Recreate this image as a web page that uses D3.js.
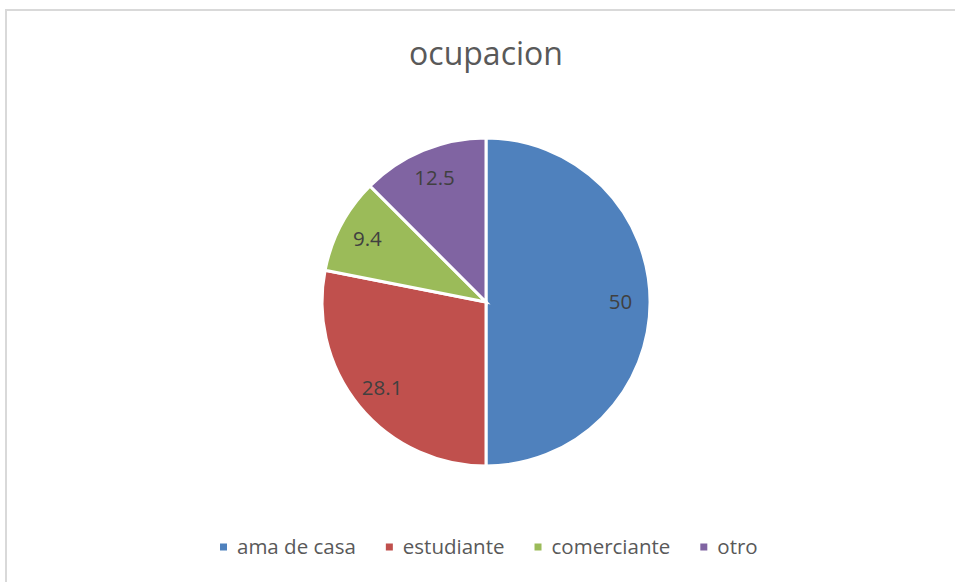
<!DOCTYPE html>
<html lang="es">
<head>
<meta charset="utf-8">
<title>ocupacion</title>
<script src="https://cdn.jsdelivr.net/npm/d3@7"></script>
<style>
body { margin:0; background:#fff; }
.title { font-family:"Open Sans", sans-serif; font-size:32px; fill:#595959; }
.slice { stroke:#fff; stroke-width:3px; }
.val { font-family:"Open Sans", sans-serif; font-size:20.5px; fill:#404040; }
.legend text { font-family:"Open Sans", sans-serif; font-size:20.5px; fill:#595959; }
</style>
</head>
<body>
<div id="chart"></div>
<script>
// datos
var categorias = ["ama de casa", "estudiante", "comerciante", "otro"];
var valores = [50, 28.1, 9.4, 12.5];
var colores = ["#4f81bd", "#c0504d", "#9bbb59", "#8064a2"];
var titulo = "ocupacion";

(function(){
	var W = 955, H = 582;
	var cx = 486, cy = 302, r = 164;

	var svg = d3.select("#chart").append("svg")
		.attr("width", W).attr("height", H);

	// marco del grafico (borde derecho/inferior fuera de la vista)
	svg.append("rect")
		.attr("x", 6).attr("y", 10)
		.attr("width", 980).attr("height", 600)
		.attr("fill", "none").attr("stroke", "#d9d9d9").attr("stroke-width", 2);

	svg.append("text").attr("class", "title")
		.attr("x", cx).attr("y", 65)
		.attr("text-anchor", "middle")
		.text(titulo);

	var color = d3.scaleOrdinal().domain(categorias).range(colores);
	var pie = d3.pie().sort(null).value(function(d){ return d.v; });
	var arcs = pie(categorias.map(function(c, i){ return {c: c, v: valores[i]}; }));
	var arc = d3.arc().innerRadius(0).outerRadius(r);
	var labelArc = d3.arc().innerRadius(r * 0.82).outerRadius(r * 0.82);

	var g = svg.append("g").attr("transform", "translate(" + cx + "," + cy + ")");
	g.selectAll("path").data(arcs).enter().append("path")
		.attr("class", "slice")
		.attr("d", arc)
		.attr("fill", function(d){ return color(d.data.c); });

	g.selectAll("text").data(arcs).enter().append("text")
		.attr("class", "val")
		.attr("transform", function(d){ return "translate(" + labelArc.centroid(d) + ")"; })
		.attr("text-anchor", "middle")
		.attr("dy", "0.35em")
		.text(function(d){ return d.data.v; });

	// leyenda
	var legend = svg.append("g").attr("class", "legend").attr("transform", "translate(0,547)");
	var x = 220;
	categorias.forEach(function(c){
		var item = legend.append("g").attr("transform", "translate(" + x + ",0)");
		item.append("rect").attr("x", 0).attr("y", -3.5).attr("width", 7).attr("height", 7)
			.attr("fill", color(c));
		var t = item.append("text").attr("x", 17).attr("dy", "0.35em").text(c);
		x += 17 + t.node().getComputedTextLength() + 30;
	});
})();
</script>
</body>
</html>
